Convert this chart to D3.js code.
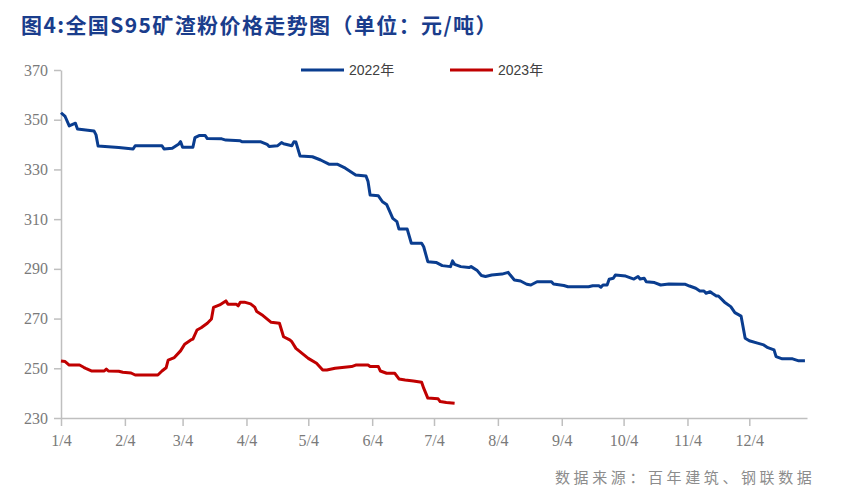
<!DOCTYPE html>
<html><head><meta charset="utf-8">
<script src="https://cdn.jsdelivr.net/npm/d3@7"></script>
<style>body{margin:0;background:#fff}</style>
</head><body><svg id="c" width="866" height="497"></svg>
<script>
const title = "图4:全国S95矿渣粉价格走势图（单位：元/吨）";
const source = "数据来源：百年建筑、钢联数据";
const seriesNames = ["2022年", "2023年"];
const xTickLabels = ["1/4","2/4","3/4","4/4","5/4","6/4","7/4","8/4","9/4","10/4","11/4","12/4"];
const yTicks = [230,250,270,290,310,330,350,370];

const dates2022 = ["01-04","01-06","01-08","01-11","01-12","01-20","01-21","01-22","02-01","02-08","02-09","02-22","02-23","02-27","03-02","03-03","03-04","03-09","03-10","03-12","03-15","03-16","03-23","03-25","04-01","04-02","04-11","04-14","04-15","04-19","04-21","04-22","04-26","04-27","04-28","04-30","05-06","05-10","05-14","05-18","05-22","05-27","06-01","06-02","06-03","06-07","06-09","06-11","06-14","06-16","06-17","06-21","06-23","06-28","06-29","07-01","07-05","07-08","07-12","07-13","07-14","07-17","07-21","07-22","07-25","07-27","07-29","08-01","08-06","08-09","08-10","08-12","08-15","08-18","08-20","08-23","08-30","08-31","09-05","09-07","09-17","09-19","09-22","09-23","09-24","09-26","09-27","09-29","09-30","10-05","10-09","10-11","10-12","10-14","10-15","10-19","10-22","10-26","11-03","11-05","11-08","11-10","11-12","11-13","11-15","11-16","11-18","11-19","11-22","11-25","11-27","11-30","12-02","12-04","12-08","12-11","12-13","12-16","12-17","12-20","12-25","12-28","12-31"];
const values2022 = [352.8,351.3,347.5,348.6,346.3,345.5,343.9,339.4,338.8,338.2,339.5,339.5,338.2,338.5,340.1,341.2,338.9,338.9,342.8,343.6,343.6,342.4,342.3,341.8,341.5,341.1,341.1,340.1,339.2,339.5,340.8,340.3,339.5,341.1,341.0,335.4,335.1,333.8,332.1,332.1,330.5,327.8,327.4,325.1,319.7,319.4,317.0,315.9,310.3,309.0,306.0,306.0,300.3,300.3,298.9,292.9,292.6,291.3,290.9,293.2,291.8,290.9,290.5,290.9,289.3,287.3,286.9,287.5,287.9,288.6,287.5,285.5,285.1,283.8,283.5,284.8,284.8,283.9,283.3,282.8,282.8,283.2,283.2,282.6,283.5,283.5,285.8,286.2,287.5,287.1,285.9,286.9,285.9,286.2,284.8,284.5,283.5,283.9,283.8,283.1,282.2,281.1,281.1,280.2,280.8,280.2,279.1,279.1,276.6,274.8,272.4,271.0,262.1,261.1,260.1,259.4,258.3,257.4,254.7,253.8,253.8,253.0,253.0];

const dates2023 = ["01-04","01-06","01-08","01-13","01-15","01-16","01-19","01-25","01-26","01-27","02-01","02-03","02-07","02-09","02-20","02-22","02-24","02-25","02-28","03-03","03-05","03-08","03-09","03-11","03-13","03-16","03-18","03-19","03-22","03-25","03-26","03-30","03-31","04-01","04-03","04-06","04-08","04-09","04-12","04-16","04-20","04-22","04-25","04-26","04-28","05-04","05-08","05-11","05-13","05-17","05-25","05-27","06-02","06-03","06-07","06-08","06-11","06-15","06-17","06-20","06-24","06-28","06-29","07-01","07-06","07-07","07-10","07-14"];
const values2023 = [252.9,252.7,251.3,251.3,250.4,250.0,248.9,248.9,249.7,248.9,248.8,248.4,248.1,247.3,247.3,248.9,250.2,253.3,254.3,257.0,259.7,261.4,261.7,265.4,266.3,268.1,269.8,274.5,275.5,277.1,275.8,275.8,275.1,276.6,276.6,275.9,274.6,272.8,271.2,268.5,268.1,262.7,261.4,260.7,258.0,254.0,252.0,249.3,249.3,250.0,250.7,251.3,251.3,250.7,250.7,248.9,248.0,248.0,245.7,245.3,244.9,244.4,242.0,238.0,237.7,236.6,236.2,235.9];

const colors = ["#0a3d8f", "#c00000"];
const parse = d3.timeParse("%Y-%m-%d");
const toDate = md => parse("2022-" + md);

const svg = d3.select("#c");
const M = {l: 61, r: 807, t: 70, b: 418};

const x = d3.scaleTime().domain([toDate("01-04"), parse("2023-01-01")]).range([M.l, M.r]);
const y = d3.scaleLinear().domain([230, 370]).range([M.b, M.t]);

// Title
svg.append("text").attr("x", 21).attr("y", 33)
  .attr("font-family", "'Noto Sans CJK SC'").attr("font-weight", "bold")
  .attr("font-size", 21).attr("letter-spacing", 1.4).attr("fill", "#1a3d8c").text(title);

// Y axis
const yAxis = svg.append("g").attr("transform", `translate(${M.l},0)`)
  .call(d3.axisLeft(y).tickValues(yTicks).tickSize(7).tickPadding(6).tickSizeOuter(0));
yAxis.select(".domain").attr("stroke", "#bfbfbf").attr("stroke-width", 1.5);
yAxis.selectAll(".tick line").attr("stroke", "#bfbfbf").attr("stroke-width", 1.5);
yAxis.selectAll(".tick text").attr("font-family", "'Liberation Serif', serif")
  .attr("font-size", 16).attr("fill", "#7a7a7a");

// X axis
const tickDates = xTickLabels.map(s => { const [m, d] = s.split("/"); return new Date(2022, +m - 1, +d); });
const xAxis = svg.append("g").attr("transform", `translate(0,${M.b})`)
  .call(d3.axisBottom(x).tickValues(tickDates).tickFormat((d, i) => xTickLabels[i]).tickSize(8).tickPadding(9).tickSizeOuter(0));
xAxis.select(".domain").attr("stroke", "#bfbfbf").attr("stroke-width", 1.5);
xAxis.selectAll(".tick line").attr("stroke", "#bfbfbf").attr("stroke-width", 1.5);
xAxis.selectAll(".tick text").attr("font-family", "'Liberation Serif', serif")
  .attr("font-size", 16).attr("fill", "#7a7a7a");

// Lines
const line = d3.line().x(d => x(d.date)).y(d => y(d.v));
const s2022 = dates2022.map((d, i) => ({date: toDate(d), v: values2022[i]}));
const s2023 = dates2023.map((d, i) => ({date: toDate(d), v: values2023[i]}));
[s2022, s2023].forEach((s, i) => {
  svg.append("path").datum(s).attr("d", line).attr("fill", "none")
    .attr("stroke", colors[i]).attr("stroke-width", 3).attr("stroke-linejoin", "round");
});

// Legend
const legX = [301, 450];
seriesNames.forEach((n, i) => {
  svg.append("line").attr("x1", legX[i]).attr("x2", legX[i] + 43).attr("y1", 70).attr("y2", 70)
    .attr("stroke", colors[i]).attr("stroke-width", 3);
  svg.append("text").attr("x", legX[i] + 48).attr("y", 75)
    .attr("font-family", "'Liberation Sans', 'Noto Sans CJK SC', sans-serif")
    .attr("font-size", 14).attr("fill", "#404040").text(n);
});

// Source
svg.append("text").attr("x", 555).attr("y", 483)
  .attr("font-family", "'Noto Sans CJK SC'").attr("font-size", 15)
  .attr("letter-spacing", 3.6).attr("fill", "#8c8c8c").text(source);
</script>
</body></html>
